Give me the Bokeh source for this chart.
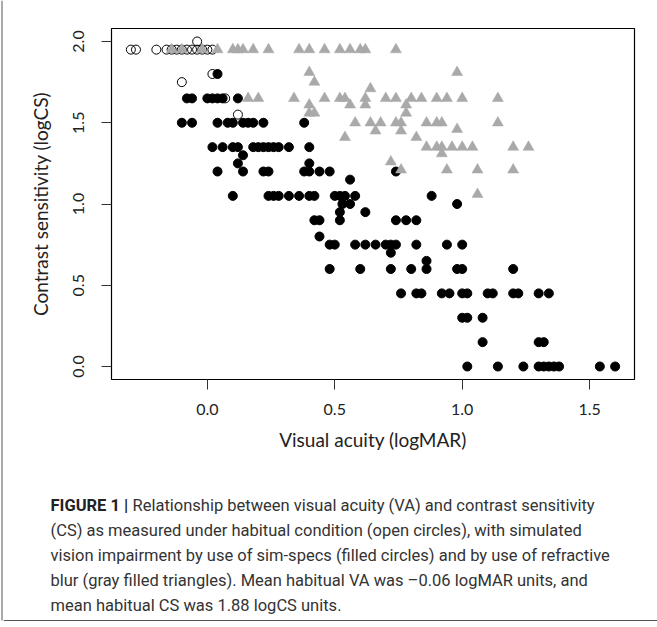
import math
from bokeh.plotting import figure
from bokeh.models import FixedTicker, Range1d, NumeralTickFormatter
from bokeh.layouts import column, row
from bokeh.embed import file_html
from bokeh.resources import INLINE
from bokeh.core.properties import value

# Habitual condition (open circles)
habitual_va = [-0.30, -0.28, -0.20, -0.16, -0.14, -0.12, -0.10, -0.08, -0.06, -0.04, -0.02, 0.00, 0.02,
               -0.04, 0.02, -0.10, 0.07, 0.12]
habitual_cs = [1.95, 1.95, 1.95, 1.95, 1.95, 1.95, 1.95, 1.95, 1.95, 1.95, 1.95, 1.95, 1.95,
               2.00, 1.80, 1.75, 1.65, 1.55]

# Sim-specs (filled circles)
simspecs_va = [0.04,
               -0.08, -0.06, 0.00, 0.02, 0.04, 0.06, 0.12,
               -0.10, -0.06, 0.04, 0.08, 0.10, 0.14, 0.16, 0.18, 0.22, 0.38,
               0.02, 0.06, 0.10, 0.12, 0.18, 0.20, 0.22, 0.24, 0.26, 0.28, 0.32, 0.40,
               0.14, 0.12, 0.40,
               0.04, 0.14, 0.22, 0.24, 0.38, 0.40, 0.44, 0.48, 0.74,
               0.56,
               0.10, 0.24, 0.26, 0.28, 0.32, 0.36, 0.40, 0.42, 0.50, 0.52, 0.54, 0.58, 0.88,
               0.53, 0.56, 0.98,
               0.52, 0.62,
               0.42, 0.44, 0.52, 0.74, 0.78, 0.82,
               0.44,
               0.48, 0.50, 0.58, 0.62, 0.66, 0.70, 0.72, 0.74, 0.82, 0.94, 1.00,
               0.72,
               0.86,
               0.48, 0.60, 0.72, 0.80, 0.86, 0.98, 1.00, 1.20,
               0.76, 0.82, 0.84, 0.92, 0.95, 1.00, 1.02, 1.10, 1.12, 1.20, 1.22, 1.30, 1.34,
               1.00, 1.02, 1.08,
               1.08, 1.30, 1.32,
               1.02, 1.14, 1.24, 1.30, 1.32, 1.34, 1.36, 1.38, 1.54, 1.60]
simspecs_cs = [1.80,
               1.65, 1.65, 1.65, 1.65, 1.65, 1.65, 1.65,
               1.50, 1.50, 1.50, 1.50, 1.50, 1.50, 1.50, 1.50, 1.50, 1.50,
               1.35, 1.35, 1.35, 1.35, 1.35, 1.35, 1.35, 1.35, 1.35, 1.35, 1.35, 1.35,
               1.30, 1.25, 1.25,
               1.20, 1.20, 1.20, 1.20, 1.20, 1.20, 1.20, 1.20, 1.20,
               1.15,
               1.05, 1.05, 1.05, 1.05, 1.05, 1.05, 1.05, 1.05, 1.05, 1.05, 1.05, 1.05, 1.05,
               1.00, 1.00, 1.00,
               0.95, 0.95,
               0.90, 0.90, 0.90, 0.90, 0.90, 0.90,
               0.80,
               0.75, 0.75, 0.75, 0.75, 0.75, 0.75, 0.75, 0.75, 0.75, 0.75, 0.75,
               0.70,
               0.65,
               0.60, 0.60, 0.60, 0.60, 0.60, 0.60, 0.60, 0.60,
               0.45, 0.45, 0.45, 0.45, 0.45, 0.45, 0.45, 0.45, 0.45, 0.45, 0.45, 0.45, 0.45,
               0.30, 0.30, 0.30,
               0.15, 0.15, 0.15,
               0.00, 0.00, 0.00, 0.00, 0.00, 0.00, 0.00, 0.00, 0.00, 0.00]

# Refractive blur (gray filled triangles)
blur_va = [-0.14, -0.10, -0.02, 0.04, 0.10, 0.12, 0.14, 0.18, 0.24, 0.36, 0.40, 0.46, 0.52, 0.56, 0.60, 0.62, 0.74,
           0.40, 0.42, 0.98,
           0.64,
           0.16, 0.20, 0.34, 0.46, 0.52, 0.54, 0.62, 0.70, 0.74, 0.80, 0.84, 0.90, 0.94, 1.00, 1.14,
           0.40, 0.56, 0.62, 0.78,
           0.40, 0.42, 0.78,
           0.58, 0.64, 0.68, 0.74, 0.76, 0.86, 0.90, 0.92, 1.14,
           0.66, 0.76, 0.98,
           0.54, 0.82,
           0.86, 0.90, 0.92, 0.96, 1.00, 1.04, 1.20, 1.26,
           0.92,
           0.72,
           0.76, 0.94, 1.06, 1.20,
           1.06]
blur_cs = [1.95, 1.95, 1.95, 1.95, 1.95, 1.95, 1.95, 1.95, 1.95, 1.95, 1.95, 1.95, 1.95, 1.95, 1.95, 1.95, 1.95,
           1.81, 1.75, 1.81,
           1.71,
           1.65, 1.65, 1.65, 1.65, 1.65, 1.65, 1.65, 1.65, 1.65, 1.65, 1.65, 1.65, 1.65, 1.65, 1.65,
           1.61, 1.61, 1.61, 1.61,
           1.56, 1.56, 1.56,
           1.50, 1.50, 1.50, 1.50, 1.50, 1.50, 1.50, 1.50, 1.50,
           1.45, 1.45, 1.46,
           1.41, 1.41,
           1.35, 1.35, 1.35, 1.35, 1.35, 1.35, 1.35, 1.35,
           1.31,
           1.26,
           1.21, 1.21, 1.21, 1.21,
           1.06]

x_ticks = [0.0, 0.5, 1.0, 1.5]
y_ticks = [0.0, 0.5, 1.0, 1.5, 2.0]
x_title = "Visual acuity (logMAR)"
y_title = "Contrast sensitivity (logCS)"
caption_bold = "FIGURE 1 |"
caption_lines = [
    "Relationship between visual acuity (VA) and contrast sensitivity",
    "(CS) as measured under habitual condition (open circles), with simulated",
    "vision impairment by use of sim-specs (filled circles) and by use of refractive",
    "blur (gray filled triangles). Mean habitual VA was \u20130.06 logMAR units, and",
    "mean habitual CS was 1.88 logCS units.",
]

AXIS_FONT = "Lato"
CAP_FONT = "Roboto"

W_TOTAL = 657
H_TOTAL = 627
STRIP = 3
W = W_TOTAL - STRIP
H1 = 478
H2 = H_TOTAL - H1

# thin strip carrying the page's left rule
s = figure(width=STRIP, height=H_TOTAL, output_backend="svg", toolbar_location=None,
           x_range=Range1d(0, STRIP), y_range=Range1d(H_TOTAL, 0), min_border=0)
s.frame_align = False
s.axis.visible = False
s.grid.visible = False
s.outline_line_color = None
s.border_fill_color = "white"
s.segment(x0=[1.5], y0=[0], x1=[1.5], y1=[620], line_color="#555555", line_width=1)

p = figure(width=W, height=H1, output_backend="svg", toolbar_location=None,
           x_range=Range1d(-0.376, 1.676), y_range=Range1d(-0.08, 2.08),
           min_border_left=111 - STRIP, min_border_right=23, min_border_top=28,
           min_border_bottom=H1 - 379)
p.frame_align = False
p.xgrid.visible = False
p.ygrid.visible = False
p.outline_line_color = "black"
p.outline_line_width = 1.2
p.background_fill_color = "white"
p.border_fill_color = "white"

for ax, ticks in ((p.xaxis, x_ticks), (p.yaxis, y_ticks)):
    ax.ticker = FixedTicker(ticks=ticks)
    ax.formatter = NumeralTickFormatter(format="0.0")
    ax.axis_line_color = None
    ax.major_tick_out = 10
    ax.major_tick_in = 0
    ax.major_tick_line_color = "#333333"
    ax.minor_tick_line_color = None
    ax.major_label_text_font = AXIS_FONT
    ax.major_label_text_font_size = "16px"
    ax.major_label_text_color = "#222222"
    ax.axis_label_text_font = AXIS_FONT
    ax.axis_label_text_font_size = "19px"
    ax.axis_label_text_font_style = "normal"
    ax.axis_label_text_color = "#222222"

p.xaxis.axis_label = x_title
p.yaxis.axis_label = y_title
p.yaxis.major_label_orientation = "vertical"
p.xaxis.major_label_standoff = 14
p.yaxis.major_label_standoff = 18
p.xaxis.axis_label_standoff = 10
p.yaxis.axis_label_standoff = 18

p.scatter(habitual_va, habitual_cs, marker="circle", size=9, fill_color=None,
          line_color="black", line_width=1)
p.scatter(simspecs_va, simspecs_cs, marker="circle", size=9, fill_color="black",
          line_color="black", line_width=1)
p.scatter(blur_va, blur_cs, marker="triangle", size=11, fill_color="#a9a9a9",
          line_color="#a9a9a9", line_width=0.5)

# caption panel (1 data unit = 1 px, y pointing down, x measured from page left)
c = figure(width=W, height=H2, output_backend="svg", toolbar_location=None,
           x_range=Range1d(STRIP, W_TOTAL), y_range=Range1d(H2, 0), min_border=0)
c.frame_align = False
c.axis.visible = False
c.grid.visible = False
c.outline_line_color = None
c.border_fill_color = "white"
c.background_fill_color = "white"

line_y = [y - H1 for y in (505, 530, 555, 580, 605)]
c.text(x=[50], y=[line_y[0]], text=[caption_bold], text_font=value(CAP_FONT),
       text_font_size="16.5px", text_font_style="bold", text_baseline="middle",
       text_align="left", text_color="#222222")
c.text(x=[132] + [50] * 4, y=line_y, text=caption_lines, text_font=value(CAP_FONT),
       text_font_size="16.5px", text_baseline="middle", text_color="#333333")
c.segment(x0=[STRIP], y0=[620 - H1], x1=[W_TOTAL], y1=[620 - H1], line_color="#555555", line_width=1)

layout = row(s, column(p, c, spacing=0), spacing=0)
open("out.html", "w").write(file_html(layout, INLINE))
